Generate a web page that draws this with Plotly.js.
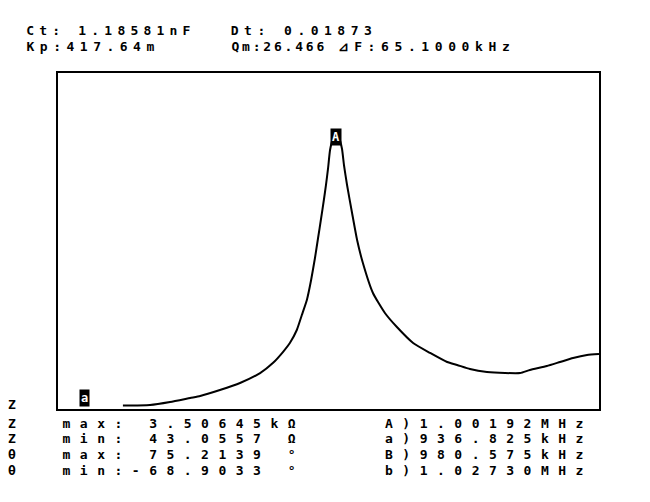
<!DOCTYPE html>
<html><head><meta charset="utf-8">
<script src="https://cdn.plot.ly/plotly-3.0.1.min.js"></script>
<style>body{margin:0;background:#fff;overflow:hidden}</style>
</head><body><div id="chart" style="width:650px;height:502px"></div>
<script>
// ---- data ----
const freqKHz = [946.8, 953.8, 959.0, 964.2, 966.8, 971.9, 977.1, 982.3, 985.6, 988.2, 990.0, 991.8, 993.1, 994.4, 995.5, 996.5, 997.3, 998.1, 998.8, 999.35, 999.9, 1000.4, 1001.2, 1001.92, 1002.7, 1003.5, 1004.0, 1004.8, 1006.1, 1007.4, 1008.9, 1011.5, 1014.6, 1017.7, 1021.9, 1026.3, 1030.7, 1033.3, 1036.6, 1041.0, 1045.7, 1049.6, 1052.1, 1056.5, 1059.9, 1063.3, 1066.9, 1070.0];
const impedanceOhm = [43, 51, 89, 140, 165, 241, 330, 457, 584, 724, 839, 1004, 1194, 1385, 1639, 1919, 2173, 2427, 2656, 2847, 3063, 3291, 3444, 3506, 3450, 3304, 3101, 2847, 2491, 2148, 1855, 1474, 1220, 1042, 839, 712, 597, 559, 508, 470, 457, 457, 496, 546, 597, 648, 686, 699];
const markerFreqKHz = [1001.92, 936.825];
const markerZOhm = [3460, 140];
const markerLabels = ['A', 'a'];
const headerTexts = ['Ct: 1.18581nF', 'Dt: 0.01873', 'Kp:417.64m', 'Qm:26.466', '⊿F:65.1000kHz'];
const rowLabels = ['Z', 'Z', 'Z', 'θ', 'θ'];
const statTexts = ['max: 3.50645kΩ', 'min: 43.0557 Ω', 'max: 75.2139 °', 'min:-68.9033 °'];
const freqTexts = ['A)1.00192MHz', 'a)936.825kHz', 'B)980.575kHz', 'b)1.02730MHz'];

// ---- layout helpers (pixel -> paper) ----
const L = 58, R = 599, T = 73, B = 409;
const px = x => (x - L) / (R - L);
const py = y => (B - y) / (B - T);
const FONT = 'DejaVu Sans Mono, Liberation Mono, monospace';

const annotations = [];
const spacing = [];
function addText(text, x, y, size, ls) {
  // Plotly measures the box without letter-spacing; compensate half the extra width
  const shift = text.length * ls / 2;
  annotations.push({text: text, xref: 'paper', yref: 'paper', x: px(x + shift), y: py(y),
    xanchor: 'left', yanchor: 'middle', showarrow: false,
    font: {family: FONT, size: size, color: '#000', weight: 'bold'}, borderpad: 0});
  spacing.push(ls);
}
// header: [x, y, letter-spacing]
const headerPos = [[25, 30.5, 5.2], [230, 30.5, 5.5], [25, 46.5, 5.5], [230, 46.5, 2.8], [337, 46.5, 5.6]];
headerTexts.forEach((t, i) => addText(t, headerPos[i][0], headerPos[i][1], 13, headerPos[i][2]));
// bottom rows
const rowY = [404, 423.5, 439, 454.5, 470];
rowLabels.forEach((t, i) => addText(t, 7, rowY[i], 13, 0));
statTexts.forEach((t, i) => addText(t, 61, rowY[i + 1], 13, 9.5));
freqTexts.forEach((t, i) => addText(t, 384, rowY[i + 1], 13, 9.5));
// marker boxes
markerLabels.forEach((t, i) => {
  annotations.push({text: t, xref: 'x', yref: 'y', x: markerFreqKHz[i], y: markerZOhm[i],
    xanchor: 'center', yanchor: 'middle', showarrow: false, bgcolor: '#000', borderpad: 1,
    font: {family: FONT, size: 12, color: '#fff', weight: 'bold'}});
  spacing.push(0);
});

let css = '';
spacing.forEach((s, i) => { css += 'g.annotation[data-index="' + i + '"] text{letter-spacing:' + s + 'px}\n'; });
const st = document.createElement('style'); st.textContent = css; document.head.appendChild(st);

const axisCommon = {showline: true, mirror: true, linewidth: 2, linecolor: '#000', showgrid: false,
  zeroline: false, showticklabels: false, ticks: '', fixedrange: true};

Plotly.newPlot('chart', [{
  x: freqKHz, y: impedanceOhm, type: 'scatter', mode: 'lines',
  line: {color: '#000', width: 2, shape: 'spline', smoothing: 0.5}, hoverinfo: 'skip'
}], {
  width: 650, height: 502,
  margin: {l: L, r: 650 - R, t: T, b: 502 - B, pad: 0},
  paper_bgcolor: '#fff', plot_bgcolor: '#fff', showlegend: false,
  xaxis: Object.assign({range: [930, 1070]}, axisCommon),
  yaxis: Object.assign({range: [0, 4270]}, axisCommon),
  annotations: annotations
}, {displayModeBar: false, staticPlot: true});
</script></body></html>
